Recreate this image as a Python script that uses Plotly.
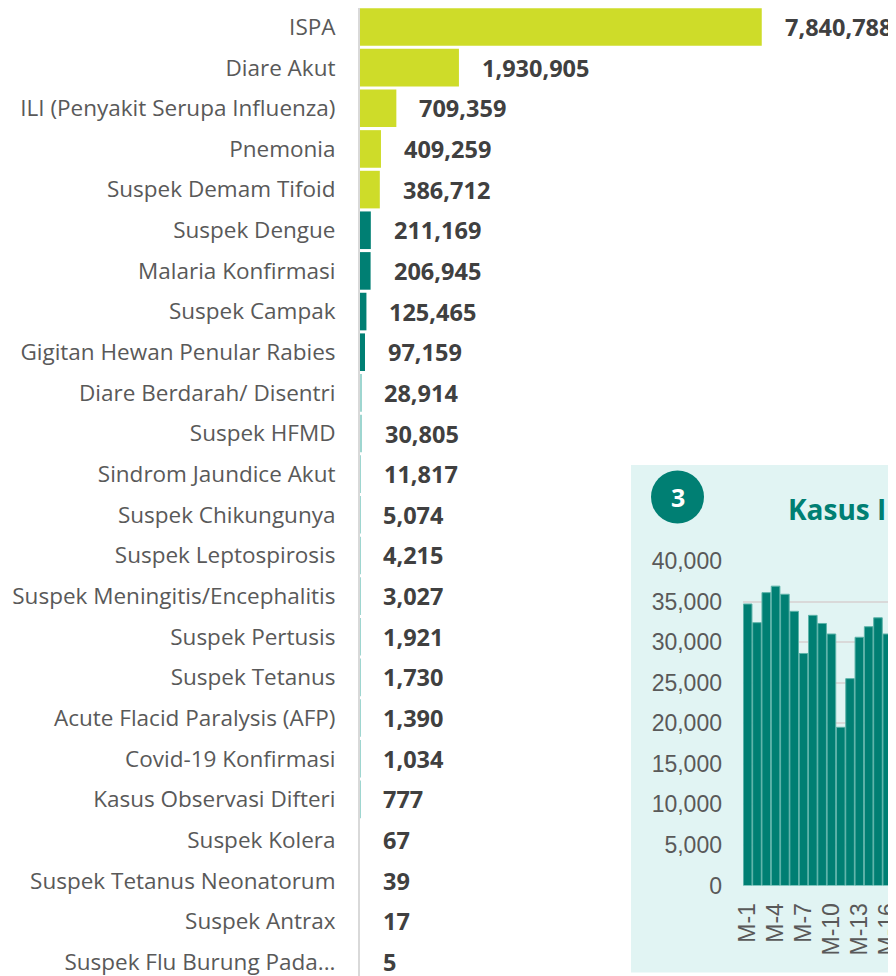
import plotly.graph_objects as go

WIN_W, WIN_H = 896, 976
OFF = 8  # page body margin: figure is drawn 8px right and down of the window corner
W, H = WIN_W - OFF, WIN_H - OFF

diseases = [
    "ISPA", "Diare Akut", "ILI (Penyakit Serupa Influenza)", "Pnemonia",
    "Suspek Demam Tifoid", "Suspek Dengue", "Malaria Konfirmasi", "Suspek Campak",
    "Gigitan Hewan Penular Rabies", "Diare Berdarah/ Disentri", "Suspek HFMD",
    "Sindrom Jaundice Akut", "Suspek Chikungunya", "Suspek Leptospirosis",
    "Suspek Meningitis/Encephalitis", "Suspek Pertusis", "Suspek Tetanus",
    "Acute Flacid Paralysis (AFP)", "Covid-19 Konfirmasi", "Kasus Observasi Difteri",
    "Suspek Kolera", "Suspek Tetanus Neonatorum", "Suspek Antrax",
    "Suspek Flu Burung Pada...",
]
cases = [
    7840788, 1930905, 709359, 409259, 386712, 211169, 206945, 125465, 97159,
    28914, 30805, 11817, 5074, 4215, 3027, 1921, 1730, 1390, 1034, 777, 67, 39, 17, 5,
]

weeks = ["M-%d" % i for i in range(1, 18)]
ili_cases = [34700, 32400, 36100, 36900, 35900, 33800, 28600, 33300, 32300,
             31000, 19500, 25500, 30600, 31900, 33000, 31000, 29300]
week_ticks = ["M-1", "M-4", "M-7", "M-10", "M-13", "M-16"]

inset_title = "Kasus ILI"
badge_text = "3"

LIME = "#CEDC29"
TEAL = "#007F73"
LIGHT = "#9ED6D0"
colors = [LIME if i < 5 else (TEAL if i < 9 else LIGHT) for i in range(len(cases))]


def px(x):
    return (x - OFF) / W


def py(y):
    return 1 - (y - OFF) / H


fig = go.Figure()

fig.add_trace(go.Bar(
    x=cases, y=diseases, orientation="h",
    marker=dict(color=colors, line=dict(width=0)),
    xaxis="x", yaxis="y", hoverinfo="x+y", showlegend=False,
))

fig.add_trace(go.Bar(
    x=weeks, y=ili_cases,
    marker=dict(color=TEAL, line=dict(color="#5DB3A9", width=1)),
    xaxis="x2", yaxis="y2", showlegend=False,
))

annotations = []
for d, v in zip(diseases, cases):
    annotations.append(dict(
        x=v, y=d, xref="x", yref="y", text=f"{v:,}", showarrow=False,
        xanchor="left", yanchor="middle", xshift=21,
        font=dict(family="Open Sans", size=23.5, color="#404040", weight="bold"),
    ))

annotations.append(dict(
    x=px(677.5), y=py(497), xref="paper", yref="paper", text=badge_text,
    showarrow=False, xanchor="center", yanchor="middle",
    font=dict(family="Open Sans", size=25, color="white", weight="bold"),
))
annotations.append(dict(
    x=px(786), y=py(509), xref="paper", yref="paper", text=inset_title,
    showarrow=False, xanchor="left", yanchor="middle",
    font=dict(family="Open Sans", size=28, color=TEAL, weight="bold"),
))

shapes = [
    dict(type="rect", xref="paper", yref="paper", x0=px(631), x1=px(WIN_W + 20),
         y0=py(972.5), y1=py(465), fillcolor="#E1F4F3", line=dict(width=0),
         layer="below"),
    dict(type="circle", xref="paper", yref="paper", x0=px(651), x1=px(704),
         y0=py(523.5), y1=py(470.5), fillcolor=TEAL, line=dict(width=0),
         layer="above"),
]

fig.update_layout(
    width=W, height=H,
    margin=dict(l=0, r=0, t=0, b=0, autoexpand=False),
    paper_bgcolor="white",
    plot_bgcolor="rgba(0,0,0,0)",
    bargap=0.075,
    annotations=annotations,
    shapes=shapes,
    xaxis=dict(domain=[px(360), 1], range=[0, 7840788 * (WIN_W - 361) / 401.0],
               visible=False, fixedrange=True, automargin=False),
    yaxis=dict(domain=[0, 1], type="category", automargin=False,
               range=[(WIN_H - 27) / 40.65, -(27 - OFF) / 40.65],
               showline=True, linecolor="#D9D9D9", linewidth=2,
               showgrid=False, zeroline=False, ticks="",
               ticklabelstandoff=18,
               tickfont=dict(family="Open Sans", size=22.5, color="#595959")),
    xaxis2=dict(domain=[px(743), 1], anchor="y2", type="category", automargin=False,
                range=[-0.5, -0.5 + (WIN_W - 743.3) / 9.29],
                tickvals=week_ticks, tickangle=-90, ticks="",
                ticklabelstandoff=12,
                showgrid=False, zeroline=False, showline=False,
                tickfont=dict(family="Liberation Sans", size=23, color="#595959")),
    yaxis2=dict(domain=[py(885.5), py(561)], anchor="x2", range=[0, 40000],
                automargin=False,
                dtick=5000, tickformat=",d", showgrid=True,
                gridcolor="#D9D9D9", gridwidth=2, zeroline=False, ticks="",
                ticklabelstandoff=20,
                tickfont=dict(family="Liberation Sans", size=23, color="#595959")),
)

fig.write_html("out.html")
